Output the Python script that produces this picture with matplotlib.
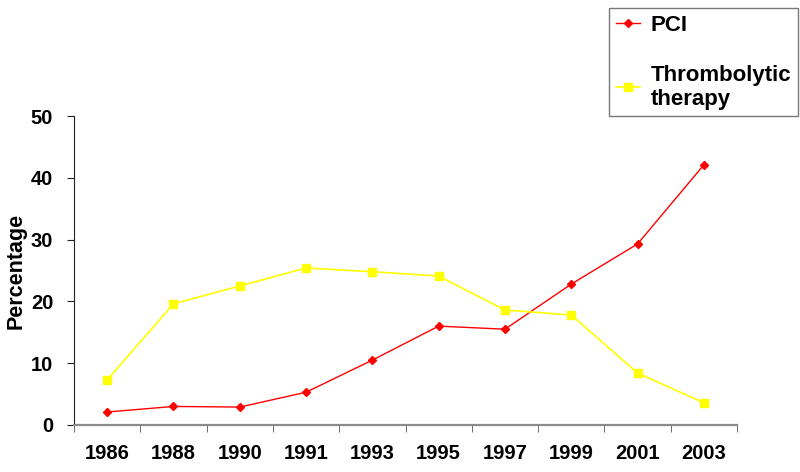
import numpy as np
import matplotlib
matplotlib.use('Agg')
import matplotlib.pyplot as plt

years = ['1986', '1988', '1990', '1991', '1993', '1995', '1997', '1999', '2001', '2003']
pci = [2.1, 3.0, 2.9, 5.3, 10.5, 16.0, 15.5, 22.8, 29.3, 42.1]
thrombolytic = [7.3, 19.6, 22.5, 25.4, 24.8, 24.1, 18.6, 17.8, 8.4, 3.6]

plt.rcParams['font.family'] = ['Liberation Sans', 'DejaVu Sans']

fig = plt.figure(figsize=(8, 4.72), dpi=100)
ax = fig.add_axes([0.0925, 0.0996, 0.8288, 0.6546])

x = np.arange(len(years))
l1, = ax.plot(x, pci, color='#ff0000', lw=1, marker='D', ms=4.5, mec='#ff0000', label='PCI')
l2, = ax.plot(x, thrombolytic, color='#ffff00', lw=1.2, marker='s', ms=5.5, mec='#ffff00',
              label='Thrombolytic\ntherapy')

ax.set_xlim(-0.5, len(years) - 0.5)
ax.set_ylim(0, 50)
ax.set_yticks([0, 10, 20, 30, 40, 50])
ax.set_xticks(x)
ax.set_xticklabels(years)
ax.set_xticks(np.arange(-0.5, len(years)), minor=True)
ax.tick_params(axis='x', which='major', length=0, pad=14)
ax.tick_params(axis='x', which='minor', length=5, direction='out', color='#555555')
ax.tick_params(axis='y', length=5, direction='out', color='#222222', pad=10)
for lab in ax.get_xticklabels() + ax.get_yticklabels():
    lab.set_fontweight('bold')
    lab.set_fontsize(14.5)

ax.spines['top'].set_visible(False)
ax.spines['right'].set_visible(False)
ax.spines['left'].set_color('#222222')
ax.spines['bottom'].set_color('#8c8c8c')
ax.spines['bottom'].set_linewidth(1.6)

ax.set_ylabel('Percentage', fontsize=15.5, fontweight='bold', labelpad=3)

leg = fig.legend(handles=[l1, l2], loc='upper right', bbox_to_anchor=(0.997, 0.983),
                 prop={'weight': 'bold', 'size': 16}, frameon=True, fancybox=False,
                 handlelength=1.1, handletextpad=0.45, labelspacing=1.3,
                 borderpad=0.3, borderaxespad=0)
leg.get_frame().set_edgecolor('#555555')
leg.get_frame().set_linewidth(1)

fig.savefig('out.png', dpi=100)
